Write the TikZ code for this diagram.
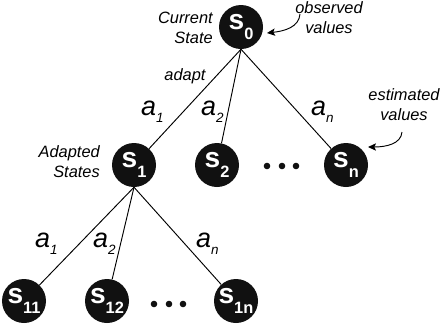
\documentclass[tikz,border=0pt]{standalone}
\usepackage{fontspec}
\setmainfont{Liberation Sans}
\usepackage{tikz}
\usetikzlibrary{arrows.meta}
\definecolor{statefill}{HTML}{111111}
\newcommand{\stname}[1]{s\raisebox{-8pt}{\fontsize{14}{14}\selectfont #1}}
\newcommand{\act}[1]{\textit{a}\raisebox{-6pt}{\fontsize{11.5}{11.5}\selectfont\itshape #1}}

\begin{document}
\begin{tikzpicture}[x=0.03cm,y=-0.03cm,>={Stealth[length=2.4mm,width=2.2mm,inset=0.5mm]},
  state/.style={circle,fill=statefill,text=white,minimum size=1.32cm,inner sep=0pt,font=\bfseries\fontsize{24}{24}\selectfont},
  note/.style={font=\itshape\fontsize{14}{17}\selectfont,inner sep=0pt},
  actlbl/.style={font=\fontsize{23}{23}\selectfont,anchor=base west,inner sep=0pt},
  edge/.style={line width=0.8pt}]
  \useasboundingbox (0,0) rectangle (441,325);
  % states
  \node[state] (s0) at (241,27) {\stname{0}};
  \node[state] (s1) at (134,165) {\stname{1}};
  \node[state] (s2) at (217,165) {\stname{2}};
  \node[state] (sn) at (346,165) {\stname{n}};
  \node[state] (s11) at (24,301) {\stname{11}};
  \node[state] (s12) at (107,301) {\stname{12}};
  \node[state] (s1n) at (236,301) {\stname{1n}};
  \foreach \x in {267,282,296} \fill[statefill] (\x,166) circle (3.3);
  \foreach \x in {154,169,183} \fill[statefill] (\x,304) circle (3.3);
  % branches
  \draw[edge] (s0.south) -- (s1);
  \draw[edge] (s0.south) -- (s2);
  \draw[edge] (s0.south) -- (sn);
  \draw[edge] (s1.south) -- (s11);
  \draw[edge] (s1.south) -- (s12);
  \draw[edge] (s1.south) -- (s1n);
  \node[actlbl] (a1) at (141,115) {\act{1}};
  \node[actlbl] (a2) at (201,115) {\act{2}};
  \node[actlbl] (an) at (311,115) {\act{n}};
  \node[actlbl] (b1) at (35,247) {\act{1}};
  \node[actlbl] (b2) at (93,247) {\act{2}};
  \node[actlbl] (bn) at (196,247) {\act{n}};
  % notes
  \node[note,align=right,anchor=east] (curlbl) at (213,28) {Current\\State};
  \node[note,align=center] (obslbl) at (329,18) {observed\\values};
  \node[note] (adaptlbl) at (185,76) {adapt};
  \node[note,align=right,anchor=east] (adplbl) at (100,162) {Adapted\\States};
  \node[note,align=center] (estlbl) at (404,105) {estimated\\values};
  \coordinate (obsfrom) at (300,14);
  \coordinate (obstip) at (267,33);
  \coordinate (estfrom) at (402,132);
  \coordinate (esttip) at (368,147);
  \draw[->,line width=0.8pt] (obsfrom) .. controls (299,27) and (285,31) .. (obstip);
  \draw[->,line width=0.8pt] (estfrom) .. controls (401,144) and (386,147) .. (esttip);
\end{tikzpicture}
\end{document}
